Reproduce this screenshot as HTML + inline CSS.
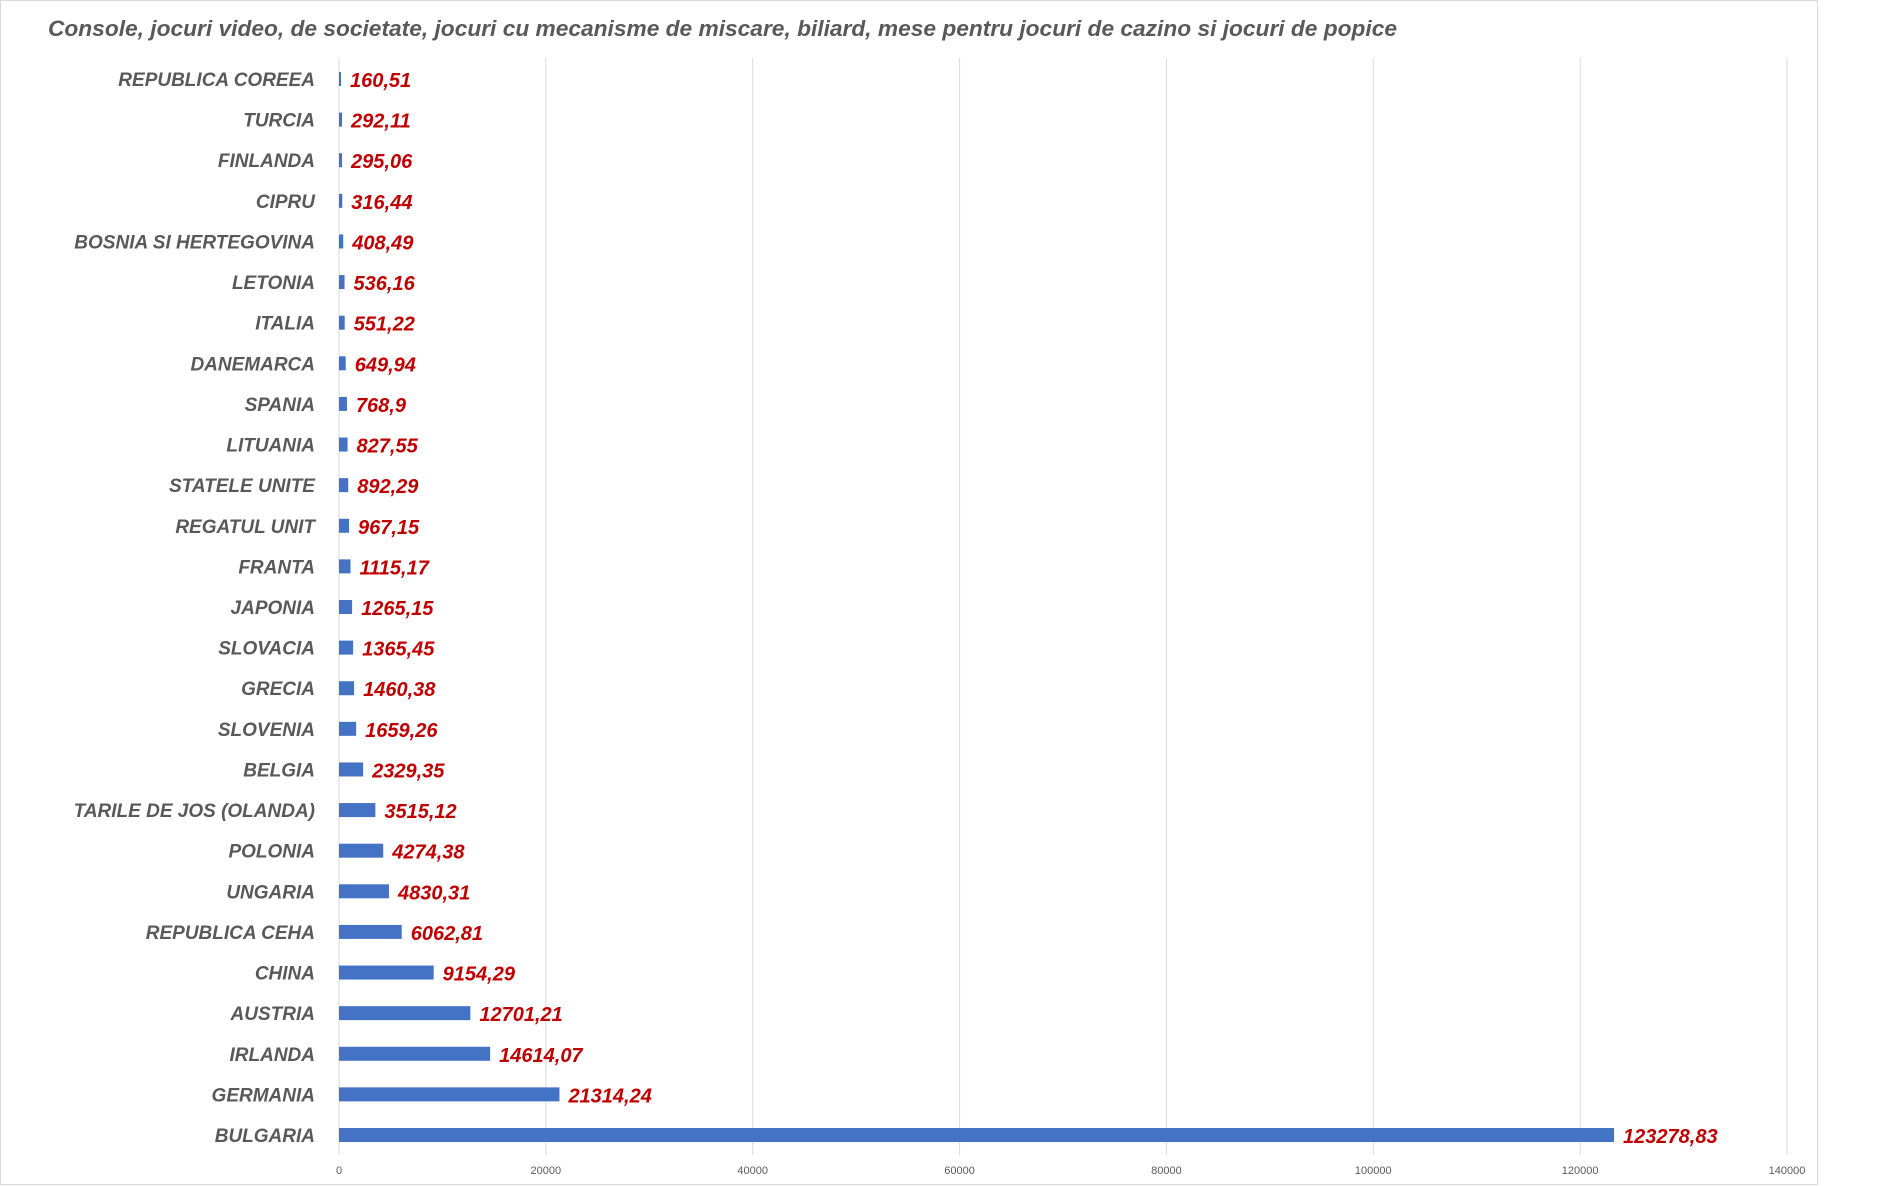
<!DOCTYPE html>
<html><head><meta charset="utf-8"><title>Chart</title>
<style>html,body{margin:0;padding:0;background:#fff}svg{display:block}</style></head>
<body>
<svg id="chart" width="1884" height="1186" xmlns="http://www.w3.org/2000/svg" font-family="'Liberation Sans', sans-serif">
<rect x="0.5" y="0.5" width="1817" height="1184" fill="#fff" stroke="#d9d9d9"/>
<text x="48" y="36" font-size="22" font-weight="bold" font-style="italic" fill="#595959" textLength="1349" lengthAdjust="spacingAndGlyphs">Console, jocuri video, de societate, jocuri cu mecanisme de miscare, biliard, mese pentru jocuri de cazino si jocuri de popice</text>
<g id="grid"></g><g id="bars"></g>
</svg>
<script>
const categories = ["REPUBLICA COREEA","TURCIA","FINLANDA","CIPRU","BOSNIA SI HERTEGOVINA","LETONIA","ITALIA","DANEMARCA","SPANIA","LITUANIA","STATELE UNITE","REGATUL UNIT","FRANTA","JAPONIA","SLOVACIA","GRECIA","SLOVENIA","BELGIA","TARILE DE JOS (OLANDA)","POLONIA","UNGARIA","REPUBLICA CEHA","CHINA","AUSTRIA","IRLANDA","GERMANIA","BULGARIA"];
const values = [160.51,292.11,295.06,316.44,408.49,536.16,551.22,649.94,768.9,827.55,892.29,967.15,1115.17,1265.15,1365.45,1460.38,1659.26,2329.35,3515.12,4274.38,4830.31,6062.81,9154.29,12701.21,14614.07,21314.24,123278.83];
const valueLabels = ["160,51","292,11","295,06","316,44","408,49","536,16","551,22","649,94","768,9","827,55","892,29","967,15","1115,17","1265,15","1365,45","1460,38","1659,26","2329,35","3515,12","4274,38","4830,31","6062,81","9154,29","12701,21","14614,07","21314,24","123278,83"];
const ticks = [0,20000,40000,60000,80000,100000,120000,140000];
const tickLabels = ["0","20000","40000","60000","80000","100000","120000","140000"];

const NS = "http://www.w3.org/2000/svg";
const x0 = 339, x1 = 1787, xMax = 140000;
const yTop = 79, yBottom = 1135;
function xScale(v){ return x0 + v / xMax * (x1 - x0); }
function yScale(i){ return yTop + i * (yBottom - yTop) / (categories.length - 1); }
function mk(tag, attrs, parent){ const e = document.createElementNS(NS, tag); for (const k in attrs) e.setAttribute(k, attrs[k]); parent.appendChild(e); return e; }

const grid = document.getElementById('grid');
const bars = document.getElementById('bars');
ticks.forEach((t, i) => {
  const x = xScale(t);
  const l = mk('line', {x1:x, x2:x, y1:58, y2:1155, stroke:'#d9d9d9', 'stroke-width':1}, grid);
  
  
  const tx = mk('text', {x:x, y:1174, 'font-size':11, fill:'#595959', 'text-anchor':'middle'}, grid);
  
  
  tx.textContent = tickLabels[i];
});
categories.forEach((c, i) => {
  const y = yScale(i);
  const lab = mk('text', {x:315, y:y + 7, 'font-size':19, 'font-weight':'bold', 'font-style':'italic', fill:'#595959', 'text-anchor':'end'}, bars);
  
  
  lab.textContent = c;
  const w = Math.max(xScale(values[i]) - x0, 2);
  const r = mk('rect', {x:x0, y:y - 7, width:w, height:14, fill:'#4472c4'}, bars);
  
  
  const v = mk('text', {x:x0 + w + 9, y:y + 8, 'font-size':20, 'font-weight':'bold', 'font-style':'italic', fill:'#c00000'}, bars);
  
  
  v.textContent = valueLabels[i];
});
</script>
</body></html>
